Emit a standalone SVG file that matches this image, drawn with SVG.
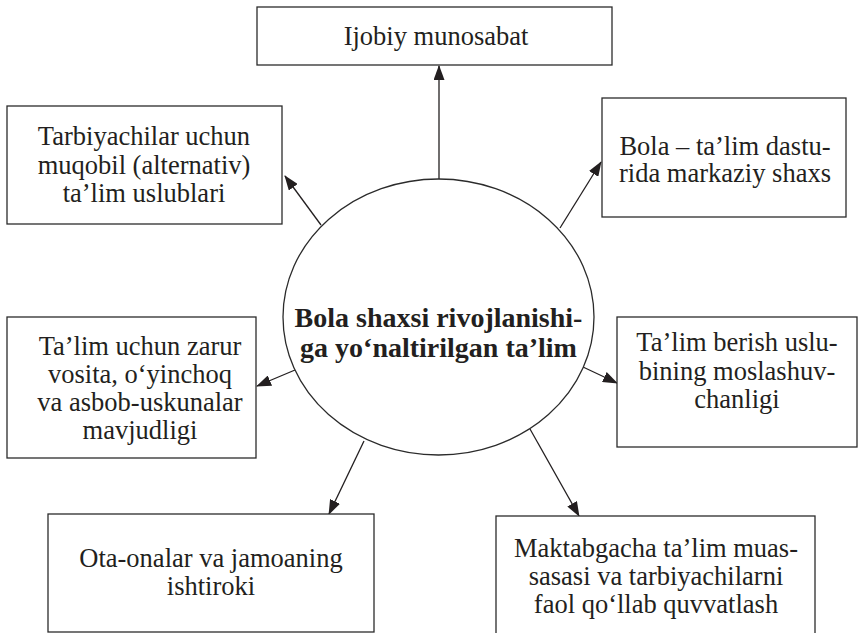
<svg xmlns="http://www.w3.org/2000/svg" width="859" height="633" viewBox="0 0 859 633">
<style>
.box{fill:#fff;stroke:#2b2b2b;stroke-width:1.3}
.t{font-family:"Liberation Serif","Times New Roman",serif;font-size:26.5px;fill:#231f20;text-anchor:middle}
.b{font-family:"Liberation Serif","Times New Roman",serif;font-size:28px;font-weight:bold;fill:#231f20;text-anchor:middle}
.c{stroke:#231f20;stroke-width:1.3;fill:none;marker-end:url(#ah)}
</style>
<defs>
<marker id="ah" markerWidth="15" markerHeight="11" refX="14" refY="5.5" orient="auto" markerUnits="userSpaceOnUse">
<path d="M0,0 L15,5.5 L0,11 Z" fill="#231f20"/>
</marker>
</defs>
<rect width="859" height="633" fill="#fff"/>
<g id="connectors">
<line class="c" x1="439" y1="180" x2="439" y2="66"/>
<line class="c" x1="321" y1="225" x2="285" y2="176"/>
<line class="c" x1="560" y1="228" x2="601" y2="162"/>
<line class="c" x1="295" y1="370" x2="257" y2="386"/>
<line class="c" x1="583" y1="367" x2="617" y2="383"/>
<line class="c" x1="364" y1="441" x2="329" y2="514"/>
<line class="c" x1="530" y1="429" x2="579" y2="516"/>
</g>
<g id="center">
<ellipse cx="438.5" cy="317" rx="155.5" ry="138" fill="#fff" stroke="#2b2b2b" stroke-width="1.3"/>
<text class="b" x="438.5" y="327">Bola shaxsi rivojlanishi-</text>
<text class="b" x="438.5" y="357">ga yo‘naltirilgan ta’lim</text>
</g>
<g id="n-top">
<rect class="box" x="257" y="7" width="355" height="58"/>
<text class="t" x="436" y="45">Ijobiy munosabat</text>
</g>
<g id="n-upleft">
<rect class="box" x="7" y="106" width="275" height="118"/>
<text class="t" x="144" y="145">Tarbiyachilar uchun</text>
<text class="t" x="144" y="173.5">muqobil (alternativ)</text>
<text class="t" x="144" y="202">ta’lim uslublari</text>
</g>
<g id="n-upright">
<rect class="box" x="602" y="98" width="244" height="119"/>
<text class="t" x="725" y="155">Bola – ta’lim dastu-</text>
<text class="t" x="725" y="182">rida markaziy shaxs</text>
</g>
<g id="n-left">
<rect class="box" x="7" y="317" width="249" height="141"/>
<text class="t" x="140" y="355">Ta’lim uchun zarur</text>
<text class="t" x="140" y="383">vosita, o‘yinchoq</text>
<text class="t" x="140" y="411">va asbob-uskunalar</text>
<text class="t" x="140" y="439">mavjudligi</text>
</g>
<g id="n-right">
<rect class="box" x="617" y="317" width="240" height="130"/>
<text class="t" x="737" y="351">Ta’lim berish uslu-</text>
<text class="t" x="737" y="380">bining moslashuv-</text>
<text class="t" x="737" y="408">chanligi</text>
</g>
<g id="n-botleft">
<rect class="box" x="48" y="514" width="326" height="118"/>
<text class="t" x="211" y="567">Ota-onalar va jamoaning</text>
<text class="t" x="211" y="595">ishtiroki</text>
</g>
<g id="n-botright">
<rect class="box" x="496" y="516" width="319" height="118"/>
<text class="t" x="656" y="557">Maktabgacha ta’lim muas-</text>
<text class="t" x="656" y="585">sasasi va tarbiyachilarni</text>
<text class="t" x="656" y="613">faol qo‘llab quvvatlash</text>
</g>
</svg>
